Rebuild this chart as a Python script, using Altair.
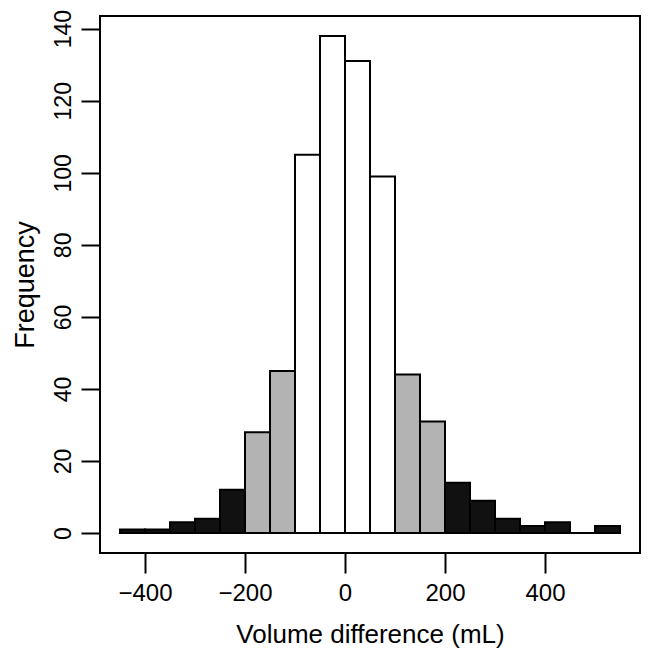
import altair as alt
import pandas as pd

bin_starts = [-450, -400, -350, -300, -250, -200, -150, -100, -50, 0,
              50, 100, 150, 200, 250, 300, 350, 400, 450, 500]
counts = [1, 1, 3, 4, 12, 28, 45, 105, 138, 131,
          99, 44, 31, 14, 9, 4, 2, 3, 0, 2]
bin_width = 50
x_ticks = [-400, -200, 0, 200, 400]
y_ticks = [0, 20, 40, 60, 80, 100, 120, 140]

df = pd.DataFrame({"start": bin_starts, "count": counts})
df["end"] = df["start"] + bin_width

def tier(s):
    mid = s + bin_width / 2
    if abs(mid) > 200:
        return "outer"
    if abs(mid) > 100:
        return "middle"
    return "inner"

df["tier"] = df["start"].apply(tier)

font = "Liberation Sans"

chart = alt.Chart(df).mark_bar(stroke="black", strokeWidth=2).encode(
    x=alt.X("start:Q",
            scale=alt.Scale(domain=[-490, 590], nice=False, zero=False),
            axis=alt.Axis(values=x_ticks, title="Volume difference (mL)",
                          domain=False, grid=False, tickSize=20, tickWidth=2,
                          tickColor="black", labelFontSize=24, titleFontSize=26,
                          labelColor="black", titleColor="black",
                          labelPadding=8, titlePadding=16, titleFontWeight="normal",
                          labelFont=font, titleFont=font, format="d")),
    x2="end:Q",
    y=alt.Y("count:Q",
            scale=alt.Scale(domain=[-5.52, 143.52], nice=False, zero=False),
            axis=alt.Axis(values=y_ticks, title="Frequency",
                          domain=False, grid=False, tickSize=19, tickWidth=2,
                          tickColor="black", labelFontSize=23, titleFontSize=27,
                          labelColor="black", titleColor="black",
                          labelAngle=270, labelAlign="center", labelBaseline="bottom",
                          labelPadding=6, titlePadding=13, titleFontWeight="normal",
                          labelFont=font, titleFont=font)),
    y2=alt.datum(0),
    fill=alt.Fill("tier:N",
                  scale=alt.Scale(domain=["outer", "middle", "inner"],
                                  range=["#111111", "#b3b3b3", "#ffffff"]),
                  legend=None),
).properties(
    width=540, height=537,
    background="white",
    autosize=alt.AutoSizeParams(type="none"),
    padding={"left": 92, "top": 8, "right": 6, "bottom": 97},
).configure_view(
    stroke="black", strokeWidth=2
)

chart.save("out.html", embed_options={"renderer": "svg", "actions": False})
